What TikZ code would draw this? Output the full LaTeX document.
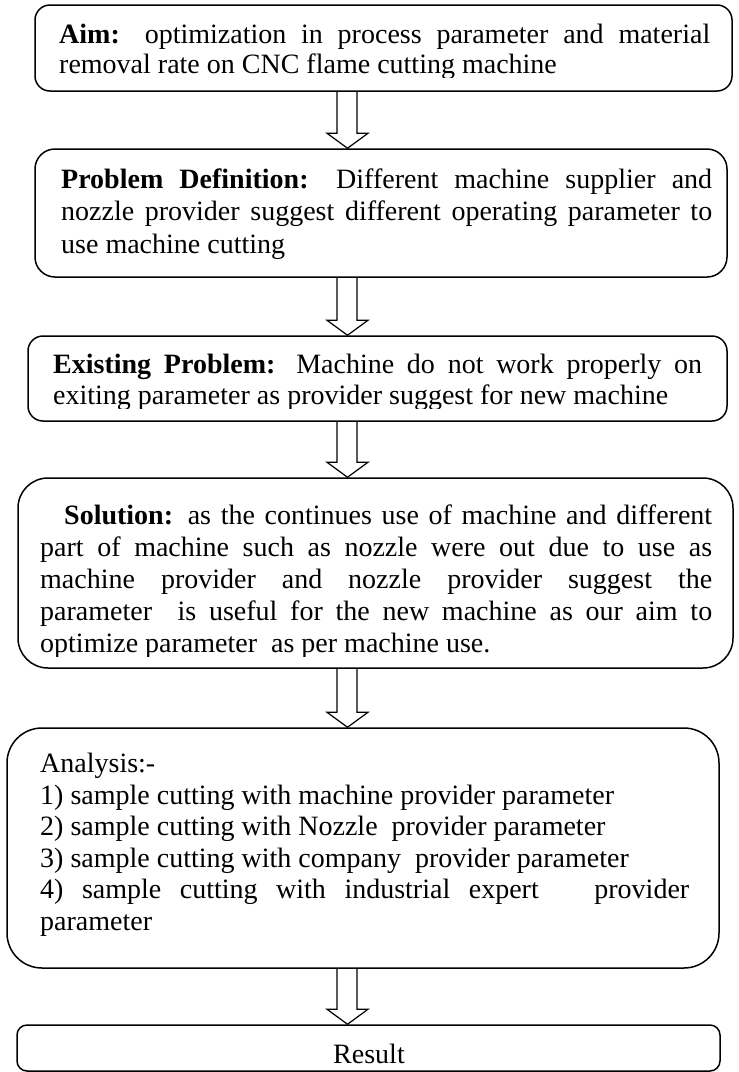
\documentclass[tikz,border=0pt]{standalone}
\usepackage{fontspec}
\setmainfont{Liberation Serif}
\usetikzlibrary{calc}
\tikzset{
  box/.style={draw, line width=1.5pt, rounded corners=#1, inner sep=0pt},
  txt/.style={anchor=base west, inner sep=0pt, align=left},
  fat/.style={draw, line width=1.2pt, line join=miter}
}
\newcommand\fatarrow[2]{%
  \draw[fat] (337,0 |- #1.south) -- ($(337,0 |- #2.north)+(0,-15)$)
    -- ($(327,0 |- #2.north)+(0,-15)$) -- (347.5,0 |- #2.north)
    -- ($(368,0 |- #2.north)+(0,-15)$) -- ($(357,0 |- #2.north)+(0,-15)$)
    -- (357,0 |- #1.south);}
\newcommand\jl[2]{\makebox[#1][s]{#2}}
\begin{document}
\begin{tikzpicture}[x=1pt,y=-1pt]
\useasboundingbox (0,0) rectangle (739,1072);
% boxes
\node[box=15pt, minimum width=697pt, minimum height=86pt]  (b1) at (383.5,48) {};
\node[box=20pt, minimum width=692pt, minimum height=128pt] (b2) at (381,213) {};
\node[box=15pt, minimum width=699pt, minimum height=85pt]  (b3) at (377.5,378.5) {};
\node[box=30pt, minimum width=715pt, minimum height=190pt] (b4) at (375.5,573) {};
\node[box=35pt, minimum width=712pt, minimum height=240pt] (b5) at (363,848) {};
\node[box=10pt, minimum width=703pt, minimum height=46pt]  (b6) at (368.5,1048) {};
% texts (anchored at the baseline of the last line)
\begin{scope}
\clip (0,0) rectangle (739,77.5);
\node[txt, font=\fontsize{28}{30}\selectfont] (t1) at (59,73) {%
\jl{651pt}{\textbf{Aim:} optimization in process parameter and material}\\
removal rate on CNC flame cutting machine};
\end{scope}
\node[txt, font=\fontsize{28}{32.5}\selectfont] (t2) at (61,253) {%
\jl{651pt}{\textbf{Problem Definition:} Different machine supplier and}\\
\jl{651pt}{nozzle provider suggest different operating parameter to}\\
use machine cutting};
\begin{scope}
\clip (0,340) rectangle (739,408.5);
\node[txt, font=\fontsize{28}{31}\selectfont] (t3) at (53,404) {%
\jl{649pt}{\textbf{Existing Problem:} Machine do not work properly on}\\
exiting parameter as provider suggest for new machine};
\end{scope}
\begin{scope}
\clip (0,480) rectangle (739,656.5);
\node[txt, font=\fontsize{28}{32}\selectfont] (t4) at (40,652) {%
\hspace*{24pt}\jl{648pt}{\textbf{Solution:} as the continues use of machine and different}\\
\jl{672pt}{part of machine such as nozzle were out due to use as}\\
\jl{672pt}{machine provider and nozzle provider suggest the}\\
\jl{672pt}{parameter\ \ is useful for the new machine as our aim to}\\
optimize parameter\ \ as per machine use.};
\end{scope}
\node[txt, font=\fontsize{28}{31.5}\selectfont] (t5) at (40,930) {%
Analysis:-\\
1) sample cutting with machine provider parameter\\
2) sample cutting with Nozzle\ \ provider parameter\\
3) sample cutting with company\ \ provider parameter\\
\jl{649pt}{4) sample cutting with industrial expert\ \ \ provider}\\
parameter};
\node[anchor=base, inner sep=0pt, font=\fontsize{28}{31}\selectfont] (t6) at (369,1063) {Result};
% arrows
\fatarrow{b1}{b2}
\fatarrow{b2}{b3}
\fatarrow{b3}{b4}
\fatarrow{b4}{b5}
\fatarrow{b5}{b6}
\end{tikzpicture}
\end{document}
